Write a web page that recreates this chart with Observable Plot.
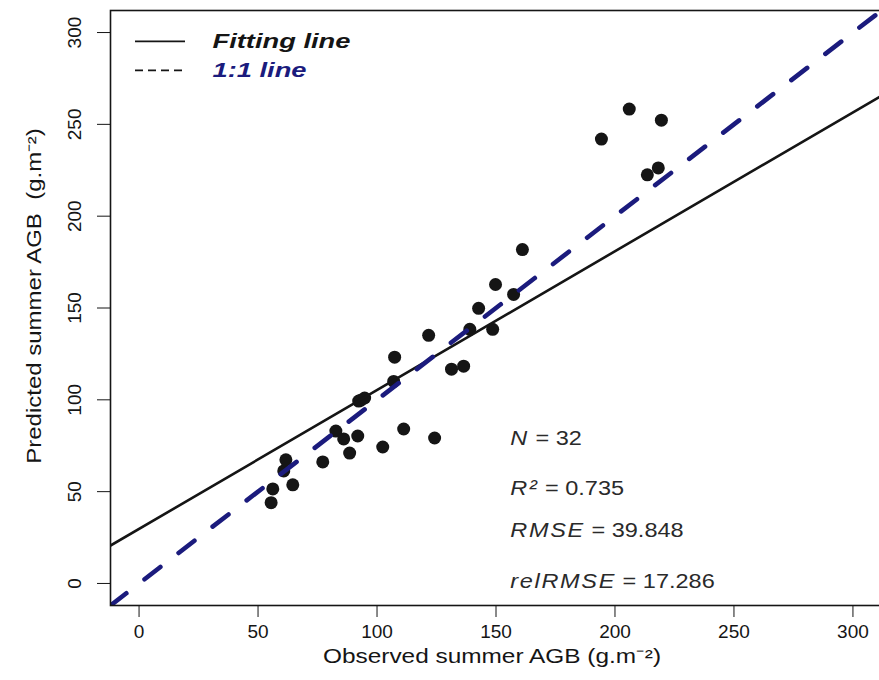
<!DOCTYPE html>
<html>
<head>
<meta charset="utf-8">
<script src="https://cdn.jsdelivr.net/npm/d3@7"></script>
<script src="https://cdn.jsdelivr.net/npm/@observablehq/plot@0.6"></script>
<style>
  html, body { margin: 0; padding: 0; background: #ffffff; overflow: hidden; }
  #chart svg { display: block; }
</style>
</head>
<body>
<div id="chart"></div>
<script>
// ---- data ----
const observed = [55.5, 56.2, 60.8, 61.7, 64.6, 77.2, 82.7, 86.0, 88.5, 91.9, 92.3, 93.2, 94.8, 102.4, 107.0, 107.4,
                  111.2, 121.7, 124.2, 131.3, 136.4, 139.0, 142.7, 148.6, 149.8, 157.4, 161.1, 194.3, 206.0, 213.6, 218.2, 219.5];
const predicted = [44.0, 51.5, 61.3, 67.3, 53.7, 66.2, 83.0, 78.7, 71.0, 80.3, 99.3, 99.8, 101.0, 74.3, 110.0, 123.2,
                   84.1, 135.1, 79.2, 116.7, 118.3, 138.4, 149.8, 138.4, 162.8, 157.4, 181.8, 242.0, 258.3, 222.5, 226.3, 252.3];
const xTicks = [0, 50, 100, 150, 200, 250, 300];
const yTicks = [0, 50, 100, 150, 200, 250, 300];
const axisDomain = [-12, 312];
const fitIntercept = 29.7;
const fitSlope = 0.756;
const statLabels = ["N = 32", "R\u00B2 = 0.735", "RMSE = 39.848", "relRMSE = 17.286"];
const statY = [79, 52, 29, 1];          // annotation rows (data units)
const statX = 156;
const legendLabels = ["Fitting line", "1:1 line"];
const legendY = [295.2, 279.4];         // legend rows (data units, like R legend)
const xTitle = "Observed summer AGB (g.m\u207B\u00B2)";
const yTitle = "Predicted summer AGB  (g.m\u207B\u00B2)";

const navy = "#1b1b7d";
const ink = "#151515";

const points = observed.map((o, i) => ({observed: o, predicted: predicted[i]}));
const fitLine = axisDomain.map(x => ({x, y: fitIntercept + fitSlope * x}));
const oneToOne = axisDomain.map(x => ({x, y: x}));
const stats = statLabels.map((t, i) => ({t, x: statX, y: statY[i]}));
const legend = legendLabels.map((t, i) => ({t, y: legendY[i], color: i === 0 ? ink : navy}));

const fig = Plot.plot({
  width: 879,
  height: 680,
  marginLeft: 110,
  marginRight: -2,
  marginTop: 10,
  marginBottom: 75,
  style: {fontFamily: "'Liberation Sans', Arial, sans-serif", fontSize: "19px", color: ink, background: "#ffffff"},
  x: {domain: axisDomain, ticks: xTicks, tickSize: 12, tickPadding: 7, label: null},
  y: {domain: axisDomain, ticks: yTicks, tickSize: 13, tickPadding: 17, tickRotate: -90, label: null},
  marks: [
    Plot.dot(points, {x: "observed", y: "predicted", r: 6.5, fill: ink, stroke: "none"}),
    Plot.line(fitLine, {x: "x", y: "y", stroke: ink, strokeWidth: 2.6, clip: true}),
    Plot.line(oneToOne, {x: "x", y: "y", stroke: navy, strokeWidth: 4.6, strokeDasharray: "20,23", strokeLinecap: "round", clip: true}),
    // legend
    Plot.tickY(legend.slice(0, 1), {y: "y", stroke: ink, strokeWidth: 1.8, insetLeft: 25, insetRight: 696}),
    Plot.tickY(legend.slice(1), {y: "y", stroke: ink, strokeWidth: 1.8, strokeDasharray: "8,5", insetLeft: 25, insetRight: 696}),
    Plot.text(legend, {x: () => axisDomain[0], y: "y", text: "t", fill: "color", dx: 102,
      textAnchor: "start", lineAnchor: "middle", fontSize: 21, fontWeight: "bold", fontStyle: "italic"}),
    // statistics
    Plot.text(stats, {x: "x", y: "y", text: "t", textAnchor: "start", lineAnchor: "middle", fontSize: 21, fill: "#2a2a2a"}),
    // axis titles
    Plot.text([xTitle], {frameAnchor: "bottom", text: d => d, textAnchor: "middle", lineAnchor: "middle", dy: 51, dx: -4, fontSize: 20}),
    Plot.text([yTitle], {frameAnchor: "left", text: d => d, textAnchor: "middle", lineAnchor: "middle", rotate: -90, dx: -76, dy: -12, fontSize: 20}),
    Plot.frame({stroke: ink, strokeWidth: 1.6})
  ]
});

// the reference's lettering is wider than the plain font: stretch along the writing direction
const stretch = new Map([
  [legendLabels[0], 1.3], [legendLabels[1], 1.3],
  [xTitle, 1.22], [yTitle, 1.2]
]);
statLabels.forEach(s => stretch.set(s, 1.12));

d3.select(fig).selectAll("text").each(function () {
  const el = d3.select(this);
  const s = el.text();
  if (stretch.has(s)) {
    el.attr("transform", (el.attr("transform") || "") + ` scale(${stretch.get(s)},1)`);
  }
  if (statLabels.includes(s)) {
    // italic symbol, upright value (R plotmath style)
    const [name, val] = s.split(" = ");
    el.text(null);
    el.append("tspan").attr("font-style", "italic").attr("letter-spacing", "1.5").text(name);
    el.append("tspan").text(" = " + val);
  }
});

document.getElementById("chart").appendChild(fig);
</script>
</body>
</html>
